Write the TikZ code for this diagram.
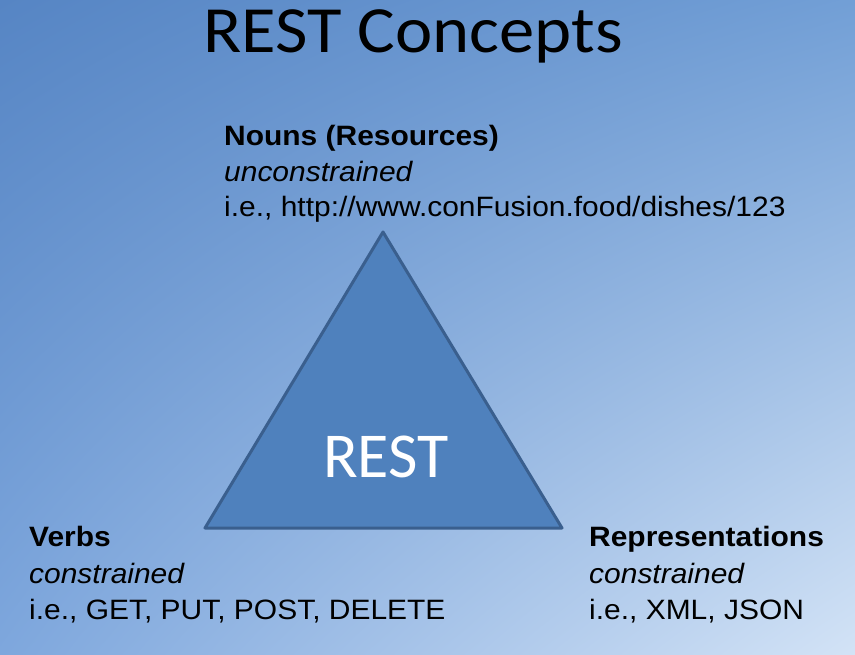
\documentclass[tikz,border=0pt]{standalone}
\usepackage{fontspec}
\usetikzlibrary{shadings}
\setmainfont{Liberation Sans}[FakeStretch=1.07]
\newfontfamily\titlefont{Carlito}[FakeStretch=1.07]
\newfontfamily\restfont{Carlito}
\definecolor{bgA}{HTML}{5685C4}
\definecolor{bgB}{HTML}{729FD6}
\definecolor{bgC}{HTML}{7EA7DD}
\definecolor{bgD}{HTML}{D3E3F6}
\definecolor{triFill}{HTML}{4F81BD}
\definecolor{triLine}{HTML}{3A5F8E}
\begin{document}
\begin{tikzpicture}[x=1pt,y=-1pt,
  lbl/.style={anchor=base west,inner sep=0pt,font=\fontsize{28}{34}\selectfont},
  lblb/.style={lbl,font=\fontsize{28}{34}\selectfont\bfseries},
  lbli/.style={lbl,font=\fontsize{28}{34}\selectfont\itshape}]
\useasboundingbox (0,0) rectangle (855,655);
\shade[upper left=bgA,upper right=bgB,lower left=bgC,lower right=bgD] (0,0) rectangle (855,655);
\node[anchor=base,inner sep=0pt,font=\titlefont\fontsize{66}{70}\selectfont] (title) at (413,53) {REST Concepts};
\coordinate (apex) at (383,232);
\coordinate (bl) at (205,528);
\coordinate (br) at (562,528);
\draw[triLine,fill=triFill,line width=3pt,line join=round] (apex) -- (bl) -- (br) -- cycle;
\node[anchor=base,inner sep=0pt,text=white,font=\restfont\fontsize{64}{70}\selectfont] (rest) at (386,477) {REST};
\node[lblb] (n1) at (224,146) {Nouns (Resources)};
\node[lbli] (n2) at (224,182) {unconstrained};
\node[lbl]  (n3) at (224,217) {i.e., http://www.conFusion.food/dishes/123};
\node[lblb] (v1) at (29,546) {Verbs};
\node[lbli] (v2) at (29,583) {constrained};
\node[lbl]  (v3) at (29,619) {i.e., GET, PUT, POST, DELETE};
\node[lblb] (r1) at (589,546) {Representations};
\node[lbli] (r2) at (589,583) {constrained};
\node[lbl]  (r3) at (589,619) {i.e., XML, JSON};
\end{tikzpicture}
\end{document}
